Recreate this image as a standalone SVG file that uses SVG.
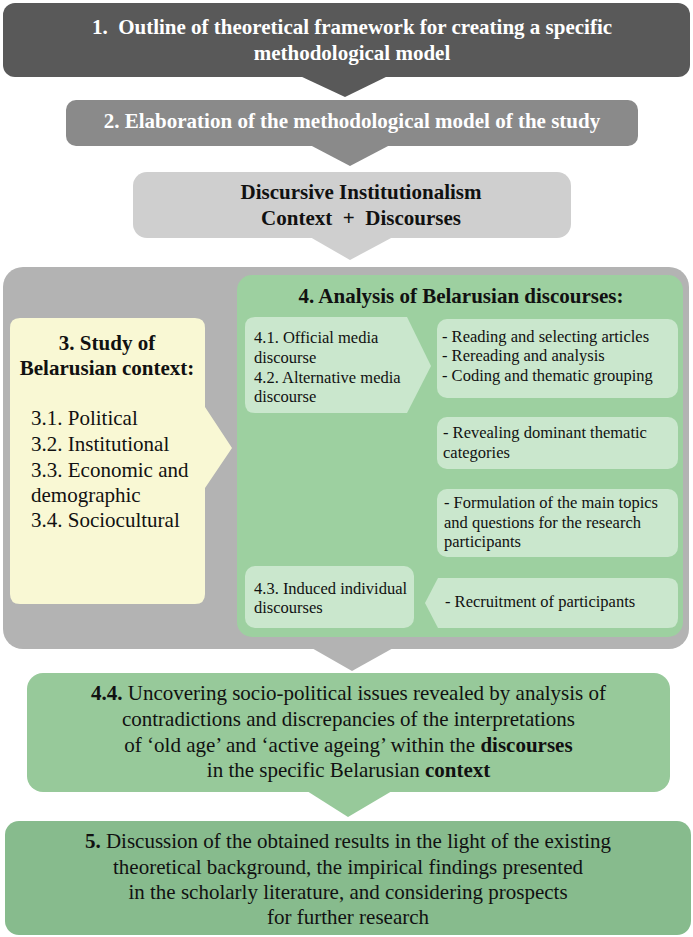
<svg xmlns="http://www.w3.org/2000/svg" width="693" height="937" viewBox="0 0 693 937">
<style>
text{font-family:"Liberation Serif","Times New Roman",serif;fill:#111;white-space:pre}
.w{fill:#fff;font-weight:bold;font-size:21px}
.b{font-weight:bold}
.t21{font-size:21px}
.t16{font-size:16.5px}
.c{text-anchor:middle}
.inner{fill:#cae7cd}
</style>
<rect width="693" height="937" fill="#fff"/>
<g id="connectors">
<polygon points="300,76 388,76 345,97" fill="#595959"/>
<polygon points="310,145 390,145 350,166" fill="#8a8a8a"/>
<polygon points="310,237 393,237 350,260" fill="#cfcfcf"/>
<polygon points="310,647 395,647 352,671" fill="#b3b3b3"/>
<polygon points="307,791 392,791 348,817" fill="#97c99a"/>
<polygon points="508,397 605,397 557,413" class="inner"/>
<polygon points="510,468 605,468 558,486" class="inner"/>
<polygon points="513,556 610,556 561,575" class="inner"/>
</g>
<g id="n1">
<rect x="3" y="3" width="687" height="74" rx="12" fill="#595959"/>
<text class="w c" x="352" y="34" xml:space="preserve">1.  Outline of theoretical framework for creating a specific</text>
<text class="w c" x="352" y="60">methodological model</text>
</g>
<g id="n2">
<rect x="66" y="100" width="572" height="46" rx="10" fill="#8a8a8a"/>
<text class="w c" x="352" y="128">2. Elaboration of the methodological model of the study</text>
</g>
<g id="n3di">
<rect x="133" y="172" width="438" height="66" rx="14" fill="#cfcfcf"/>
<text class="t21 b c" x="361" y="199">Discursive Institutionalism</text>
<text class="t21 b c" x="361" y="225" xml:space="preserve">Context  +  Discourses</text>
</g>
<g id="container">
<rect x="3" y="267" width="686" height="382" rx="20" fill="#b3b3b3"/>
</g>
<g id="n4">
<rect x="237" y="275" width="446" height="362" rx="15" fill="#9dd0a0"/>
<text class="t21 b c" x="461" y="303">4. Analysis of Belarusian discourses:</text>
</g>
<g id="n3ctx">
<path d="M20,318 H195 Q205,318 205,328 V407 L232,448 L205,488 V594 Q205,604 195,604 H20 Q10,604 10,594 V328 Q10,318 20,318 Z" fill="#f9f8d4"/>
<text class="t21 b c" x="107" y="350">3. Study of</text>
<text class="t21 b c" x="107" y="375">Belarusian context:</text>
<text class="t21" x="31" y="425">3.1. Political</text>
<text class="t21" x="31" y="451">3.2. Institutional</text>
<text class="t21" x="31" y="477">3.3. Economic and</text>
<text class="t21" x="31" y="502">demographic</text>
<text class="t21" x="31" y="527">3.4. Sociocultural</text>
</g>
<g id="n41">
<path d="M255,317 H407 L431,366 L407,413 H255 Q245,413 245,403 V327 Q245,317 255,317 Z" class="inner"/>
<text class="t16" x="254" y="343">4.1. Official media</text>
<text class="t16" x="254" y="363">discourse</text>
<text class="t16" x="254" y="383">4.2. Alternative media</text>
<text class="t16" x="254" y="402">discourse</text>
</g>
<g id="n_read">
<rect x="437" y="319" width="241" height="79" rx="10" class="inner"/>
<text class="t16" x="442" y="342">- Reading and selecting articles</text>
<text class="t16" x="442" y="361">- Rereading and analysis</text>
<text class="t16" x="442" y="381">- Coding and thematic grouping</text>
</g>
<g id="n_reveal">
<rect x="437" y="417" width="241" height="52" rx="10" class="inner"/>
<text class="t16" x="443" y="438">- Revealing dominant thematic</text>
<text class="t16" x="443" y="458">categories</text>
</g>
<g id="n_form">
<rect x="437" y="489" width="241" height="68" rx="10" class="inner"/>
<text class="t16" x="444" y="508">- Formulation of the main topics</text>
<text class="t16" x="444" y="528">and questions for the research</text>
<text class="t16" x="444" y="547">participants</text>
</g>
<g id="n_recruit">
<path d="M438,578 H668 Q678,578 678,588 V618 Q678,628 668,628 H438 L425,603 Z" class="inner"/>
<text class="t16" x="445" y="607">- Recruitment of participants</text>
</g>
<g id="n43">
<rect x="245" y="566" width="169" height="62" rx="10" class="inner"/>
<text class="t16" x="254" y="594">4.3. Induced individual</text>
<text class="t16" x="254" y="613">discourses</text>
</g>
<g id="n44">
<rect x="27" y="673" width="643" height="119" rx="16" fill="#97c99a"/>
<text class="t21 c" x="348.5" y="700"><tspan class="b">4.4.</tspan> Uncovering socio-political issues revealed by analysis of</text>
<text class="t21 c" x="348.5" y="726">contradictions and discrepancies of the interpretations</text>
<text class="t21 c" x="348.5" y="752">of ‘old age’ and ‘active ageing’ within the <tspan class="b">discourses</tspan></text>
<text class="t21 c" x="348.5" y="777">in the specific Belarusian <tspan class="b">context</tspan></text>
</g>
<g id="n5">
<rect x="5" y="821" width="686" height="114" rx="14" fill="#87bb8d"/>
<text class="t21 c" x="348" y="848"><tspan class="b">5.</tspan> Discussion of the obtained results in the light of the existing</text>
<text class="t21 c" x="348" y="874">theoretical background, the impirical findings presented</text>
<text class="t21 c" x="348" y="899">in the scholarly literature, and considering prospects</text>
<text class="t21 c" x="348" y="924">for further research</text>
</g>
</svg>
